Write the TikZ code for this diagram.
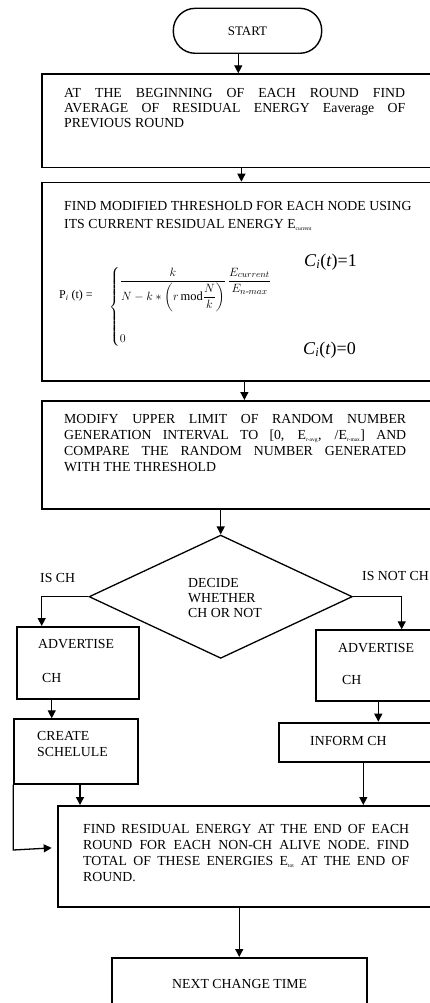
\documentclass[tikz,border=0pt]{standalone}
\usepackage{amsmath}
\usepackage{fontspec}
\setmainfont{Liberation Serif}
\usetikzlibrary{arrows.meta,shapes.geometric,calc}
\newcommand\myjl[2]{\makebox[#1][s]{#2}}
\newcommand\mysub[1]{\textsubscript{\fontsize{5.5}{5.5}\selectfont #1}}
\begin{document}
\begin{tikzpicture}[x=1pt,y=-1pt,
  box/.style={draw, line width=1.8pt, inner sep=0pt, anchor=north west},
  txt/.style={inner sep=0pt, anchor=base west, font=\fontsize{13.8}{15}\selectfont},
  arr/.style={line width=1.3pt, -{Triangle[length=8pt,width=8pt]}},
  lin/.style={line width=1.3pt}]
\useasboundingbox (0,0) rectangle (430,1003);
\clip (0,0) rectangle (430,1003);

% start
\node[draw, line width=1.4pt, rounded corners=22pt, minimum width=148.4pt, minimum height=45pt, inner sep=0pt, font=\fontsize{13}{13}\selectfont] (start) at (247.5,30.8) {START};

% box 1
\node[box, minimum width=399pt, minimum height=93.4pt] (b1) at (41,73.3) {};
\node[txt] (t1) at (64,98) {\parbox[t]{341pt}{\myjl{341pt}{AT THE BEGINNING OF EACH ROUND FIND}\\\myjl{341pt}{AVERAGE OF RESIDUAL ENERGY Eaverage OF}\\PREVIOUS ROUND}};

% box 2
\node[box, minimum width=399pt, minimum height=198.3pt] (b2) at (41,181.7) {};
\node[txt, font=\fontsize{13.8}{17.6}\selectfont] (t2) at (64,210.7) {\parbox[t]{370pt}{FIND MODIFIED THRESHOLD FOR EACH NODE USING\\ITS CURRENT RESIDUAL ENERGY E\mysub{current}}};
\node[anchor=west, inner sep=0pt, font=\fontsize{12}{12}\selectfont] (pdef) at (59,296) {P\textsubscript{\itshape i} (t) =};
\node[anchor=west, inner sep=0pt, font=\fontsize{12.5}{14}\selectfont] (cases) at (109,307) {$\left\{\begin{array}{@{}l@{}}\dfrac{k}{N-k\ast\left(r\,\mathrm{mod}\dfrac{N}{k}\right)}\,\dfrac{E_{current}}{E_{n\text{-}max}}\\[44pt] 0\end{array}\right.$};
\node[anchor=west, inner sep=0pt, font=\fontsize{18}{18}\selectfont] (c1) at (304,262) {\textit{C}\textsubscript{\itshape i}(\textit{t})=1};
\node[anchor=west, inner sep=0pt, font=\fontsize{18}{18}\selectfont] (c0) at (303,350) {\textit{C}\textsubscript{\itshape i}(\textit{t})=0};

% box 3
\node[box, minimum width=399pt, minimum height=108.3pt] (b3) at (41,400) {};
\node[txt, font=\fontsize{13.8}{16}\selectfont] (t3) at (64,423) {\parbox[t]{342pt}{\myjl{342pt}{MODIFY UPPER LIMIT OF RANDOM NUMBER}\\\myjl{342pt}{GENERATION INTERVAL TO [0, E\mysub{r-avg}, /E\mysub{r-max}] AND}\\\myjl{342pt}{COMPARE THE RANDOM NUMBER GENERATED}\\WITH THE THRESHOLD}};

% decision
\node[draw, diamond, line width=1.3pt, minimum width=263.3pt, minimum height=123.3pt, inner sep=0pt] (dia) at (220.7,596.7) {};
\node[txt] (tdia) at (188,587) {\parbox[t]{100pt}{DECIDE\\WHETHER\\CH OR NOT}};
\node[txt] (lis) at (40,582) {IS CH};
\node[txt] (lnot) at (362,580) {IS NOT CH};

% left branch
\node[box, minimum width=122.6pt, minimum height=72.3pt] (advL) at (15.7,626) {};
\node[txt] (tal1) at (38,648) {ADVERTISE};
\node[txt] (tal2) at (42,682) {CH};
\node[box, minimum width=124pt, minimum height=64.4pt] (create) at (13.3,718.3) {};
\node[txt, font=\fontsize{13.8}{16}\selectfont] (tc) at (37,740) {\parbox[t]{100pt}{CREATE\\SCHELULE}};

% right branch
\node[box, minimum width=130pt, minimum height=70.7pt] (advR) at (315,629.3) {};
\node[txt] (tar1) at (338,652) {ADVERTISE};
\node[txt] (tar2) at (342,684) {CH};
\node[box, minimum width=170pt, minimum height=39.3pt] (inform) at (277.7,721.7) {};
\node[txt] (ti) at (310,745) {INFORM CH};

% big box
\node[box, minimum width=390pt, minimum height=101pt] (big) at (56.7,805) {};
\node[txt, font=\fontsize{13.8}{16}\selectfont] (tb) at (83,833) {\parbox[t]{326pt}{\myjl{326pt}{FIND RESIDUAL ENERGY AT THE END OF EACH}\\\myjl{326pt}{ROUND FOR EACH NON-CH ALIVE NODE. FIND}\\\myjl{326pt}{TOTAL OF THESE ENERGIES E\mysub{tot} AT THE END OF}\\ROUND.}};

% next
\node[box, minimum width=254.7pt, minimum height=60pt] (next) at (111,957) {};
\node[txt] (tn) at (172,988) {NEXT CHANGE TIME};

% connectors
\draw[arr] ([xshift=-9.2pt]start.south) -- ([xshift=-9.2pt]start.south |- b1.north);
\draw[arr] (b1.south) -- (b2.north);
\draw[arr] ([xshift=3pt]b2.south) -- ([xshift=3pt]b2.south |- b3.north);
\draw[arr] (dia.north |- b3.south) -- (dia.north);
\draw[arr] (dia.west) -| ([xshift=26pt]advL.north west);
\draw[arr] (dia.east) -| ([xshift=86.7pt]advR.north west);
\draw[arr] ([xshift=36pt]advL.south west) -- ([xshift=36pt]advL.south west |- create.north);
\draw[arr] ([xshift=63.3pt]advR.south west) -- ([xshift=63.3pt]advR.south west |- inform.north);
\draw[arr] ([xshift=66.7pt]create.south west) -- ([xshift=66.7pt]create.south west |- big.north);
\draw[arr] ([xshift=85.6pt]inform.south west) -- ([xshift=85.6pt]inform.south west |- big.north);
\coordinate (lp) at (13.3,850);
\draw[arr] (create.south west) -- (lp) -- ([xshift=-5pt,yshift=8.5pt]big.west);
\draw[arr] (next.north |- big.south) -- (next.north);
\end{tikzpicture}
\end{document}
